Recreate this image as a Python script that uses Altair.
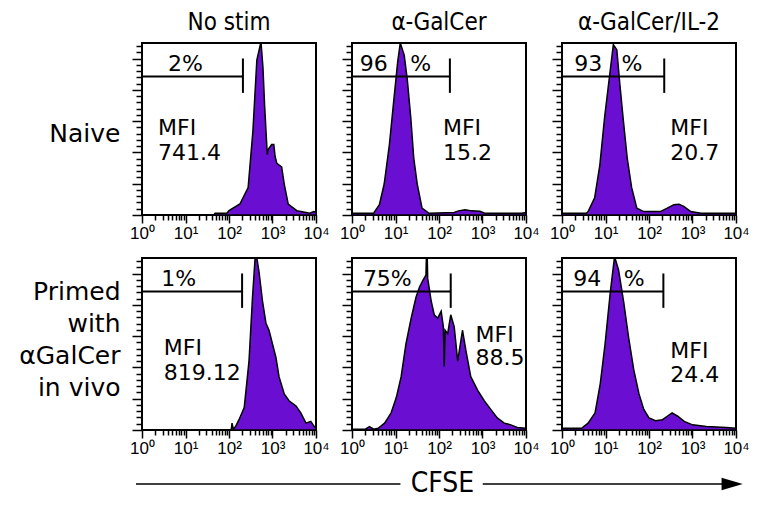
import altair as alt
import pandas as pd

# ---------------- text ----------------
COL_TITLES = ["No stim", "α-GalCer", "α-GalCer/IL-2"]
ROW_TITLES = [["Naive"], ["Primed", "with", "αGalCer", "in vivo"]]
X_TITLE = "CFSE"
DECADES = [1, 10, 100, 1000, 10000]
DECADE_LABELS = ["10⁰", "10¹", "10²", "10³", "10⁴"]

# ---------------- histograms (log10 CFSE, height as % of panel) ----------------
H1_LOGX = [0.0, 1.65, 1.68, 1.95, 2.0, 2.25, 2.44, 2.55, 2.64, 2.72, 2.74, 2.78, 2.82, 2.88, 2.9, 2.98, 3.03, 3.06, 3.1, 3.21, 3.27, 3.36, 3.56, 3.86, 3.95, 4.0]
H1_PCT = [0, 0, 1, 1, 2.5, 6.4, 16, 49, 90, 99, 99, 86, 63, 35, 38, 41, 41, 34, 30, 28, 18, 6.4, 2.5, 1, 2, 1.6]

H2_LOGX = [0.0, 0.5, 0.52, 0.63, 0.74, 0.86, 0.97, 1.05, 1.11, 1.2, 1.27, 1.35, 1.42, 1.5, 1.61, 1.77, 2.35, 2.45, 2.6, 2.75, 2.94, 3.05, 3.9, 4.0]
H2_PCT = [1, 1, 2, 6, 18, 41, 69, 89, 100, 93, 79, 57, 33, 18, 4, 1, 1.5, 2.4, 3, 2.4, 2.2, 1, 1, 1.5]

H3_LOGX = [0.0, 0.56, 0.6, 0.75, 0.87, 0.98, 1.08, 1.18, 1.26, 1.33, 1.41, 1.5, 1.6, 1.72, 1.88, 2.26, 2.42, 2.57, 2.69, 2.8, 2.96, 3.2, 4.0]
H3_PCT = [1, 1, 2, 10, 29, 57, 78, 99, 96, 76, 55, 33, 16, 4, 2, 2, 4, 6, 6.3, 5, 2, 1, 1]

H4_LOGX = [0.0, 2.05, 2.07, 2.1, 2.15, 2.23, 2.35, 2.46, 2.54, 2.6, 2.64, 2.69, 2.77, 2.85, 2.92, 3.0, 3.08, 3.15, 3.27, 3.38, 3.54, 3.65, 3.77, 3.88, 3.96, 4.0]
H4_PCT = [0, 0, 4, 0.5, 2, 6, 13, 40, 77, 100, 100, 92, 75, 62, 58, 50, 42, 31, 21, 17, 14, 10, 4, 5, 2, 1]

H5_LOGX = [0.0, 0.3, 0.4, 0.5, 0.6, 0.75, 0.9, 1.02, 1.13, 1.24, 1.36, 1.47, 1.55, 1.63, 1.7, 1.71, 1.73, 1.74, 1.76, 1.82, 1.89, 1.97, 2.05, 2.1, 2.12, 2.14, 2.2, 2.27, 2.35, 2.43, 2.54, 2.62, 2.73, 2.89, 3.04, 3.19, 3.34, 3.5, 3.65, 3.8, 4.0]
H5_PCT = [0.4, 0.4, 2, 0.5, 1, 4, 10, 19, 31, 50, 65, 77, 83, 87, 90, 100, 100, 88, 85, 75, 67, 65, 69, 60, 37, 58, 56, 67, 60, 40, 58, 46, 31, 23, 17, 12, 7, 4, 3, 1.5, 1]

H6_LOGX = [0.0, 0.45, 0.6, 0.76, 0.88, 0.99, 1.11, 1.2, 1.23, 1.3, 1.42, 1.53, 1.65, 1.77, 1.88, 2.0, 2.15, 2.31, 2.42, 2.53, 2.66, 2.81, 3.0, 3.32, 3.78, 4.0]
H6_PCT = [1, 1, 4, 10, 27, 50, 80, 99, 99, 93, 74, 54, 35, 21, 12, 7, 5.4, 6, 8, 10, 8, 5, 3, 2, 1.4, 1]

HIST_LOGX = [H1_LOGX, H2_LOGX, H3_LOGX, H4_LOGX, H5_LOGX, H6_LOGX]
HIST_PCT = [H1_PCT, H2_PCT, H3_PCT, H4_PCT, H5_PCT, H6_PCT]

# ---------------- gates ----------------
GATE_END = [209, 178, 224, 200, 186, 214]
GATE_LEVEL = [80.5, 80.5, 80.5, 80.5, 80.5, 80.5]
GATE_TICK_LO = [71, 71, 71, 71, 71, 71]
GATE_TICK_HI = [91, 91, 91, 91, 91, 91]

# ---------------- annotations ----------------
LABEL_PANEL = [0, 0, 0, 1, 1, 1, 1, 2, 2, 2, 2, 3, 3, 3, 4, 4, 4, 5, 5, 5, 5]
LABEL_TEXT = ["2%", "MFI", "741.4", "96", "%", "MFI", "15.2", "93", "%", "MFI", "20.7",
              "1%", "MFI", "819.12", "75%", "MFI", "88.5", "94", "%", "MFI", "24.4"]
LABEL_LOGX = [0.6, 0.37, 0.37, 0.18, 1.34, 2.09, 2.09, 0.28, 1.37, 2.49, 2.49,
              0.44, 0.5, 0.5, 0.25, 2.84, 2.84, 0.26, 1.42, 2.49, 2.49]
LABEL_Y = [88, 50.6, 36.3, 88, 88, 50.6, 36.3, 88, 88, 50.6, 36.3,
           88, 47.4, 33, 88, 55, 41.6, 88, 88, 46, 31.8]

# ---------------- style ----------------
PURPLE = "#6A0FD2"
TITLE_FONT = "Liberation Sans Narrow, DejaVu Sans Condensed, Liberation Sans"
ROW_FONT = "DejaVu Sans"
TEXT_FONT = "DejaVu Sans"
TICK_FONT = "Liberation Sans"

X_TICKS = [k * 10 ** d for d in range(4) for k in range(1, 10)] + [10000]
Y_STEP = 100 / 27.5
Y_TICKS = [i * Y_STEP for i in range(28)]

label_expr = "".join(
    f"datum.value == {v} ? '{t}' : " for v, t in zip(DECADES, DECADE_LABELS)
) + "''"
x_major = "indexof([" + ",".join(str(v) for v in DECADES) + "], datum.value) >= 0"
y_major = f"abs(datum.value / {5 * Y_STEP} - round(datum.value / {5 * Y_STEP})) < 0.01"


def panel(i):
    row, col = divmod(i, 3)
    xs = alt.Scale(type="log", domain=[1, 10000], nice=False)
    ys = alt.Scale(domain=[0, 100], nice=False, zero=True)
    xaxis = alt.Axis(
        values=X_TICKS, labelExpr=label_expr, title=None, grid=False, domain=False,
        tickColor="black", tickWidth=1.5,
        tickSize={"condition": {"test": x_major, "value": 8}, "value": 5},
        labelFont=TICK_FONT, labelFontSize=17, labelColor="black", labelPadding=2,
        labelFlush=False, labelOverlap=False,
    )
    yargs = dict(
        values=Y_TICKS, labels=False, grid=False, domain=False,
        tickColor="black", tickWidth=1.5,
        tickSize={"condition": {"test": y_major, "value": 10}, "value": 6},
    )
    if col == 0:
        title = ROW_TITLES[row]
        yaxis = alt.Axis(
            title=title if len(title) > 1 else title[0], titleAngle=0, titleAlign="right",
            titleBaseline="middle", titleFont=ROW_FONT, titleFontSize=25,
            titleFontWeight="normal", titleColor="black", titleX=-22,
            titleLineHeight=32, titleY=90 if row == 0 else 33, **yargs,
        )
    else:
        yaxis = alt.Axis(title=None, **yargs)

    hist = pd.DataFrame({"cfse": [10 ** v for v in HIST_LOGX[i]], "count": HIST_PCT[i]})
    gate_h = pd.DataFrame({"cfse": [1], "cfse2": [GATE_END[i]], "count": [GATE_LEVEL[i]]})
    gate_v = pd.DataFrame({"cfse": [GATE_END[i]], "count": [GATE_TICK_LO[i]], "count2": [GATE_TICK_HI[i]]})
    labels = pd.DataFrame({
        "cfse": [10 ** x for p, x in zip(LABEL_PANEL, LABEL_LOGX) if p == i],
        "count": [y for p, y in zip(LABEL_PANEL, LABEL_Y) if p == i],
        "text": [t for p, t in zip(LABEL_PANEL, LABEL_TEXT) if p == i],
    })

    X = lambda: alt.X("cfse:Q", scale=xs, axis=xaxis)
    Y = lambda: alt.Y("count:Q", scale=ys, axis=yaxis)

    area = alt.Chart(hist).mark_area(
        color=PURPLE, stroke="black", strokeWidth=1.5, interpolate="linear", clip=True
    ).encode(x=X(), y=Y())
    gh = alt.Chart(gate_h).mark_rule(color="black", strokeWidth=2).encode(
        x=X(), x2="cfse2:Q", y=Y())
    gv = alt.Chart(gate_v).mark_rule(color="black", strokeWidth=2).encode(
        x=X(), y=Y(), y2="count2:Q")
    txt = alt.Chart(labels).mark_text(
        align="left", baseline="middle", font=TEXT_FONT, fontSize=22, color="black"
    ).encode(x=X(), y=Y(), text="text:N")

    layer = alt.layer(area, gh, gv, txt).properties(width=174, height=172)
    if row == 0:
        layer = layer.properties(title=alt.TitleParams(
            COL_TITLES[col], font=TITLE_FONT, fontSize=24, fontWeight="normal",
            color="black", offset=8, anchor="middle"))
    return layer


grid = alt.concat(*[panel(i) for i in range(6)], columns=3,
                  spacing={"row": 43, "column": 36}, bounds="flush")

# footer arrow: positions as fraction of the footer width (footer starts at panel 1)
seg = pd.DataFrame({"a": [-0.01, 0.567], "b": [0.43, 0.967], "y": [0.5, 0.5]})
fx = alt.Scale(domain=[0, 1])
fy = alt.Scale(domain=[0, 1])
lines = alt.Chart(seg).mark_rule(color="black", strokeWidth=1.5).encode(
    x=alt.X("a:Q", scale=fx, axis=None), x2="b:Q", y=alt.Y("y:Q", scale=fy, axis=None))
head = alt.Chart(pd.DataFrame({"a": [0.982], "y": [0.5]})).mark_point(
    shape="M -1 -0.6 L 1 0 L -1 0.6 Z", filled=True, color="black", opacity=1, size=450
).encode(x=alt.X("a:Q", scale=fx, axis=None), y=alt.Y("y:Q", scale=fy, axis=None))
word = alt.Chart(pd.DataFrame({"a": [0.5], "y": [0.5], "t": [X_TITLE]})).mark_text(
    font=TITLE_FONT, fontSize=28, baseline="middle", align="center", color="black"
).encode(x=alt.X("a:Q", scale=fx, axis=None), y=alt.Y("y:Q", scale=fy, axis=None), text="t:N")
footer = alt.layer(lines, head, word).properties(
    width=601, height=30, view=alt.ViewBackground(strokeOpacity=0))

chart = alt.vconcat(grid, footer, spacing=12).properties(
    padding={"left": 9, "top": 2, "right": 5, "bottom": 3}
).configure_view(stroke="black", strokeWidth=2)

chart.save("out.html", embed_options={"renderer": "svg", "actions": False})
